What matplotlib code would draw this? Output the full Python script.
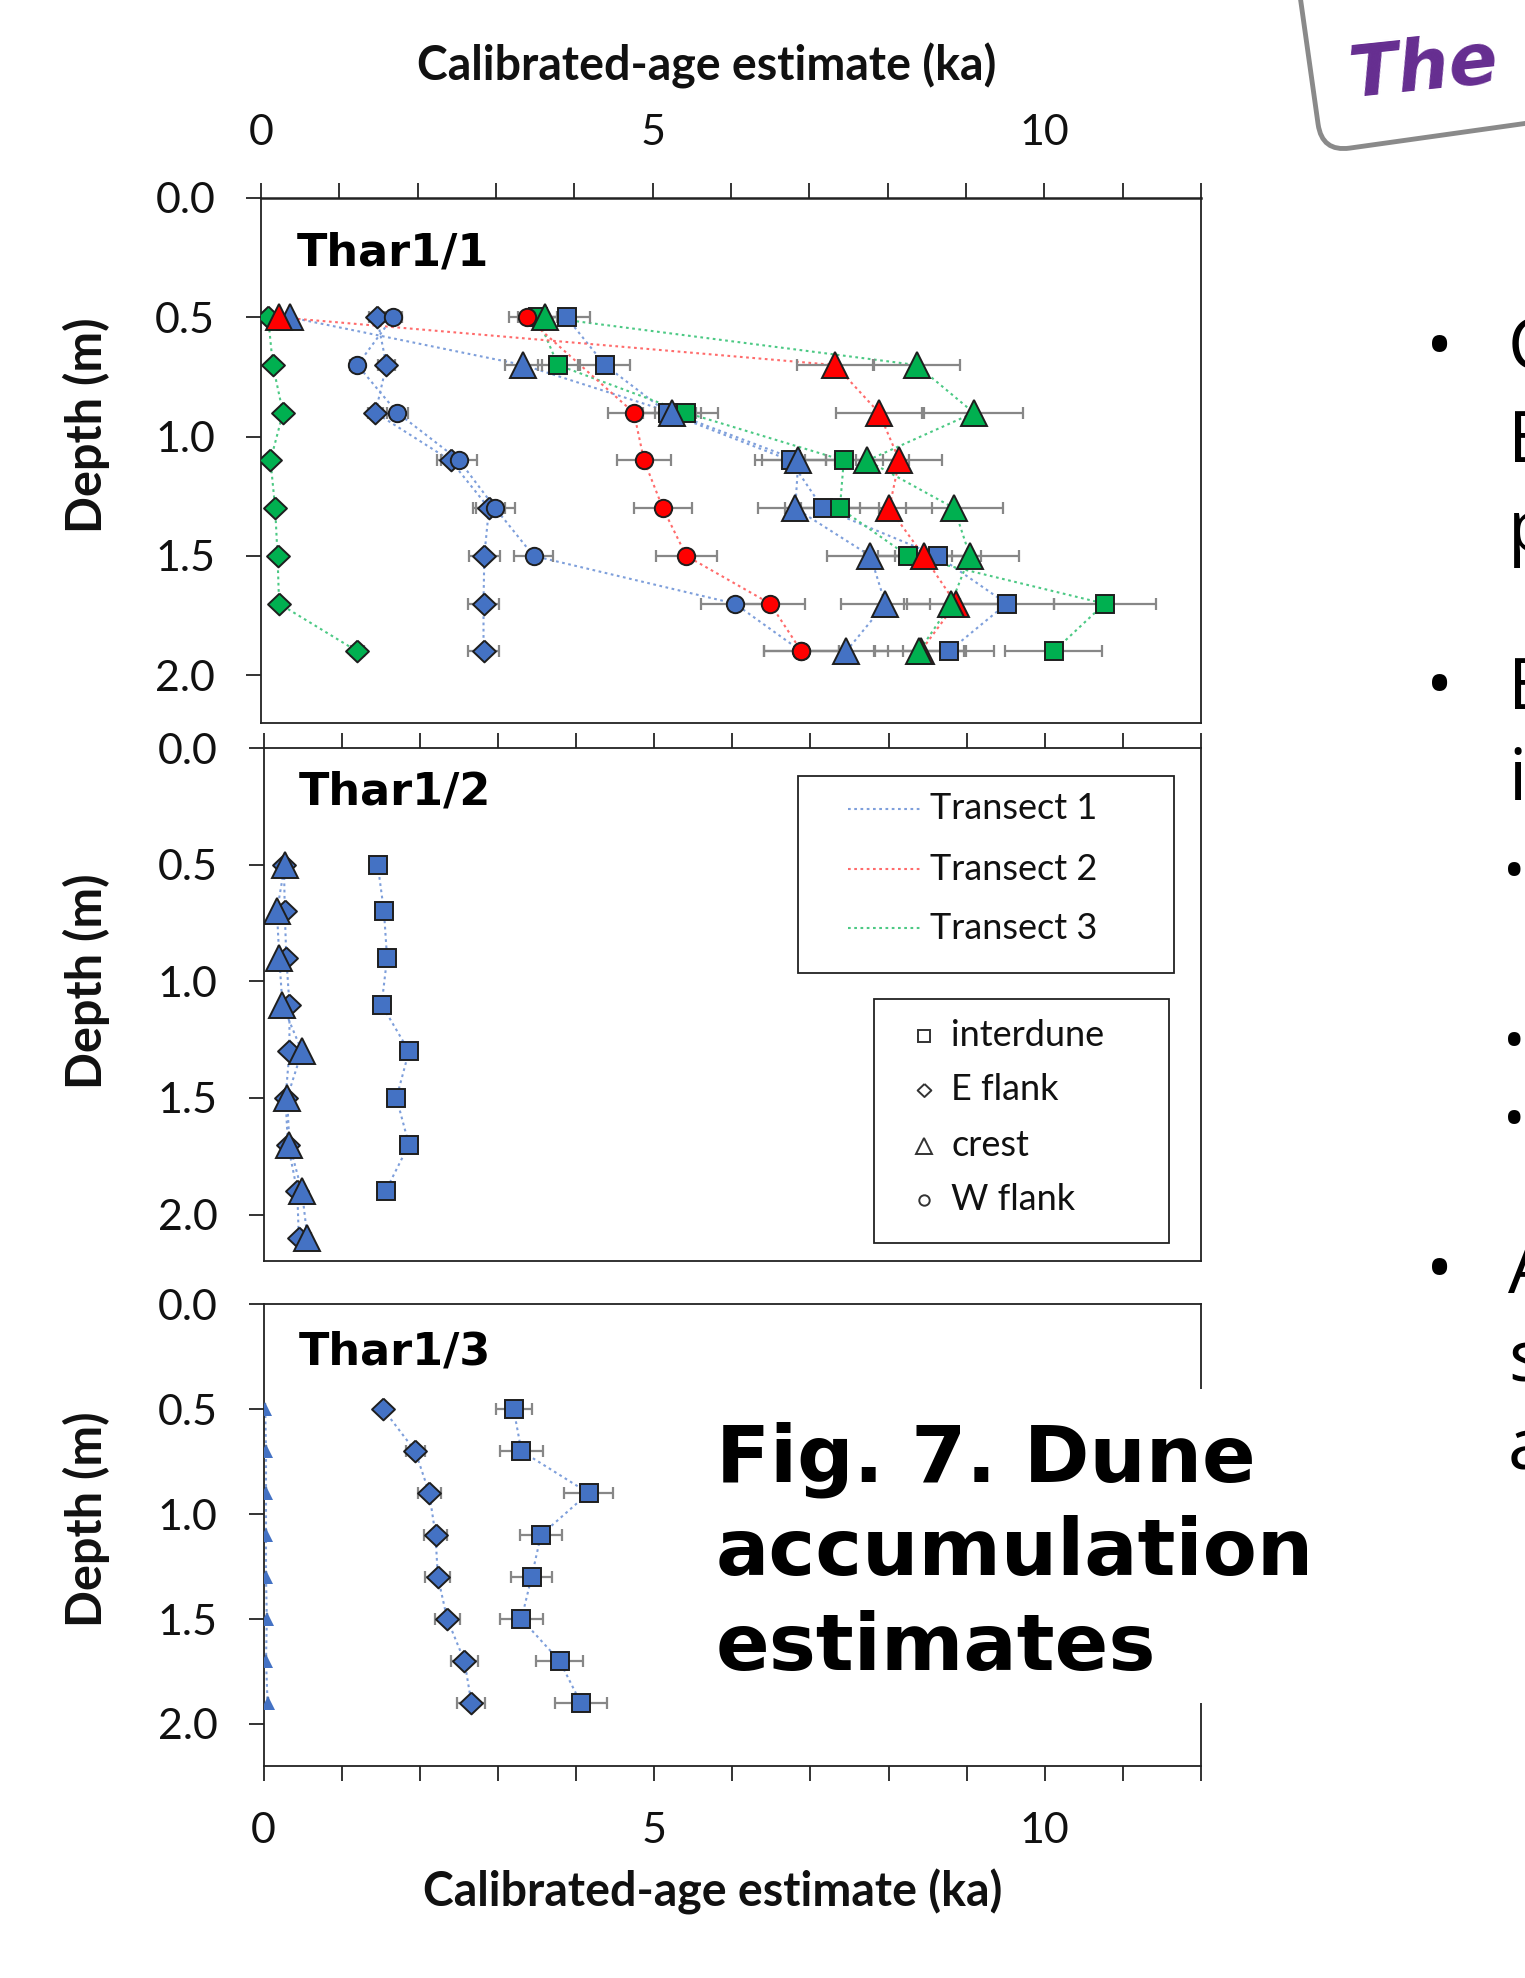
import matplotlib
matplotlib.use('Agg')
import matplotlib.pyplot as plt
import matplotlib.transforms as mtransforms
from matplotlib.patches import Rectangle, FancyBboxPatch
import numpy as np

W_PX, H_PX, DPI = 1525, 1978, 100

# ---- data (ages in ka, depth in m) ----
DEPTH_1 = [0.5, 0.7, 0.9, 1.1, 1.3, 1.5, 1.7, 1.9]
T1_INTERDUNE_1 = [3.90, 4.39, 5.19, 6.76, 7.17, 8.64, 9.52, 8.78]
T1_INTERDUNE_1_ERR = [0.30, 0.32, 0.36, 0.45, 0.48, 0.55, 0.60, 0.58]
T1_EFLANK_1 = [1.48, 1.60, 1.46, 2.42, 2.91, 2.85, 2.84, 2.84]
T1_EFLANK_1_ERR = [0.10, 0.11, 0.10, 0.17, 0.20, 0.20, 0.20, 0.20]
T1_CREST_1 = [0.37, 3.35, 5.25, 6.86, 6.82, 7.78, 7.97, 7.47]
T1_CREST_1_ERR = [0.03, 0.24, 0.37, 0.47, 0.47, 0.55, 0.57, 0.53]
T1_WFLANK_1 = [1.68, 1.23, 1.74, 2.53, 2.99, 3.48, 6.05, 6.90]
T1_WFLANK_1_ERR = [0.12, 0.09, 0.13, 0.23, 0.25, 0.25, 0.43, 0.48]
T2_CREST_1 = [0.23, 7.33, 7.89, 8.15, 8.02, 8.46, 8.87, 8.42]
T2_CREST_1_ERR = [0.02, 0.49, 0.55, 0.55, 0.55, 0.58, 0.62, 0.58]
T2_WFLANK_1 = [3.39, np.nan, 4.76, 4.89, 5.13, 5.43, 6.50, 6.90]
T2_WFLANK_1_ERR = [0.22, np.nan, 0.33, 0.35, 0.37, 0.39, 0.45, 0.48]
T3_INTERDUNE_1 = [3.53, 3.79, 5.43, 7.44, 7.39, 8.26, 10.77, 10.12]
T3_INTERDUNE_1_ERR = [0.25, 0.26, 0.40, 0.50, 0.50, 0.56, 0.65, 0.62]
T3_EFLANK_1 = [0.09, 0.15, 0.28, 0.12, 0.18, 0.21, 0.23, 1.23]
T3_EFLANK_1_ERR = [0.01, 0.01, 0.02, 0.01, 0.01, 0.02, 0.02, 0.08]
T3_CREST_1 = [3.63, 8.37, 9.10, 7.74, 8.85, 9.05, 8.81, 8.40]
T3_CREST_1_ERR = [0.25, 0.56, 0.63, 0.53, 0.62, 0.63, 0.60, 0.58]

DEPTH_2 = [0.5, 0.7, 0.9, 1.1, 1.3, 1.5, 1.7, 1.9, 2.1]
T1_INTERDUNE_2 = [1.46, 1.54, 1.58, 1.51, 1.86, 1.70, 1.86, 1.56, np.nan]
T1_INTERDUNE_2_ERR = [0.06, 0.10, 0.10, 0.06, 0.10, 0.07, 0.10, 0.07, np.nan]
T1_EFLANK_2 = [0.26, 0.27, 0.29, 0.33, 0.33, 0.28, 0.31, 0.43, 0.45]
T1_EFLANK_2_ERR = [0.02, 0.02, 0.02, 0.02, 0.02, 0.02, 0.02, 0.03, 0.03]
T1_CREST_2 = [0.27, 0.17, 0.20, 0.24, 0.49, 0.30, 0.33, 0.49, 0.56]
T1_CREST_2_ERR = [0.02, 0.01, 0.01, 0.02, 0.03, 0.02, 0.02, 0.03, 0.04]

DEPTH_3 = [0.5, 0.7, 0.9, 1.1, 1.3, 1.5, 1.7, 1.9]
T1_INTERDUNE_3 = [3.20, 3.30, 4.16, 3.55, 3.43, 3.30, 3.79, 4.06]
T1_INTERDUNE_3_ERR = [0.23, 0.27, 0.31, 0.27, 0.26, 0.28, 0.30, 0.33]
T1_EFLANK_3 = [1.53, 1.94, 2.12, 2.20, 2.23, 2.35, 2.57, 2.66]
T1_EFLANK_3_ERR = [0.05, 0.12, 0.15, 0.15, 0.16, 0.16, 0.17, 0.18]
T1_CREST_3 = [0.02, 0.03, 0.03, 0.03, 0.03, 0.04, 0.03, 0.05]
T1_CREST_3_ERR = [0.0, 0.0, 0.0, 0.0, 0.0, 0.0, 0.0, 0.0]

YTICKS = [0.0, 0.5, 1.0, 1.5, 2.0]
XTICKS_MAJOR = [0, 5, 10]
XTICKS_MINOR = list(range(13))
PANEL_NAMES = ['Thar1/1', 'Thar1/2', 'Thar1/3']
TRANSECTS = ['Transect 1', 'Transect 2', 'Transect 3']
POSITIONS = ['interdune', 'E flank', 'crest', 'W flank']
CAPTION_LINES = ['Fig. 7. Dune', 'accumulation', 'estimates']

# ---- styling ----
FILL = {1: '#4472C4', 2: '#FF0000', 3: '#00B050'}
LINE = {1: '#7E9FDB', 2: '#FF6B6B', 3: '#4CC984'}
EDGE = '#1E1E1E'
ERR_GREY = '#878787'
DIA = [(0, 0.95), (1, 0), (0, -0.95), (-1, 0), (0, 0.95)]
MARKERS = {'interdune': ('s', 13.5), 'E flank': (DIA, 16.5),
           'crest': ('^', 18.5), 'W flank': ('o', 12.5)}
DOTS = (0, (1.3, 1.7))

plt.rcParams['font.family'] = 'Lato'

fig = plt.figure(figsize=(W_PX / DPI, H_PX / DPI), dpi=DPI)


def fx(px):
    return px / W_PX


def fy(py):
    return 1 - py / H_PX


def draw_panel(ax, depth, series):
    d = np.asarray(depth, float)
    for k, (age, err, pos, tr, small) in enumerate(series):
        a = np.asarray(age, float)
        e = np.asarray(err, float)
        ok = ~np.isnan(a)
        ax.plot(a[ok], d[ok], ls=DOTS, lw=1.5, color=LINE[tr], zorder=2)
        ax.errorbar(a[ok], d[ok], xerr=e[ok], fmt='none', ecolor=ERR_GREY,
                    elinewidth=1.6, capsize=4.5, capthick=1.6, zorder=2.5)
        mk, ms = MARKERS[pos]
        if small:
            ax.plot(a[ok], d[ok], ls='none', marker=mk, ms=9.5, mfc=FILL[tr],
                    mec=FILL[tr], mew=0, zorder=3 + k * 0.01)
        else:
            ax.plot(a[ok], d[ok], ls='none', marker=mk, ms=ms, mfc=FILL[tr],
                    mec=EDGE, mew=1.4, zorder=3 + k * 0.01)


def style_axes(ax, where, labels):
    ax.set_xlim(0, 12)
    ax.set_ylim(2.2, 0)
    ax.set_yticks(YTICKS)
    ax.set_yticklabels([f'{v:.1f}' for v in YTICKS])
    ax.set_xticks(XTICKS_MAJOR)
    ax.set_xticks(XTICKS_MINOR, minor=True)
    ax.set_xticklabels([str(v) for v in XTICKS_MAJOR])
    ax.tick_params(axis='y', which='both', direction='out', length=11, width=1.2,
                   pad=22, labelsize=31, right=False, colors='#111111')
    if where == 'top':
        ax.tick_params(axis='x', which='both', direction='out', length=11, width=1.2,
                       top=True, bottom=False, labeltop=labels, labelbottom=False,
                       pad=22, labelsize=31, colors='#111111')
    else:
        ax.tick_params(axis='x', which='both', direction='out', length=11, width=1.2,
                       top=False, bottom=True, labeltop=False, labelbottom=labels,
                       pad=22, labelsize=31, colors='#111111')
    for sp in ax.spines.values():
        sp.set_linewidth(1.3)
        sp.set_color('#222222')


ax1 = fig.add_axes([0.1712, 0.6345, 0.7875 - 0.1712, 0.8999 - 0.6345])
ax2 = fig.add_axes([0.1729, 0.3624, 0.7875 - 0.1729, 0.6218 - 0.3624])
ax3 = fig.add_axes([0.1729, 0.1072, 0.7875 - 0.1729, 0.3407 - 0.1072])

series_1 = [
    (T1_INTERDUNE_1, T1_INTERDUNE_1_ERR, 'interdune', 1, False),
    (T3_INTERDUNE_1, T3_INTERDUNE_1_ERR, 'interdune', 3, False),
    (T1_EFLANK_1, T1_EFLANK_1_ERR, 'E flank', 1, False),
    (T3_EFLANK_1, T3_EFLANK_1_ERR, 'E flank', 3, False),
    (T1_CREST_1, T1_CREST_1_ERR, 'crest', 1, False),
    (T2_CREST_1, T2_CREST_1_ERR, 'crest', 2, False),
    (T3_CREST_1, T3_CREST_1_ERR, 'crest', 3, False),
    (T1_WFLANK_1, T1_WFLANK_1_ERR, 'W flank', 1, False),
    (T2_WFLANK_1, T2_WFLANK_1_ERR, 'W flank', 2, False),
]
series_2 = [
    (T1_INTERDUNE_2, T1_INTERDUNE_2_ERR, 'interdune', 1, False),
    (T1_EFLANK_2, T1_EFLANK_2_ERR, 'E flank', 1, False),
    (T1_CREST_2, T1_CREST_2_ERR, 'crest', 1, False),
]
series_3 = [
    (T1_INTERDUNE_3, T1_INTERDUNE_3_ERR, 'interdune', 1, False),
    (T1_EFLANK_3, T1_EFLANK_3_ERR, 'E flank', 1, False),
    (T1_CREST_3, T1_CREST_3_ERR, 'crest', 1, True),
]

draw_panel(ax1, DEPTH_1, series_1)
draw_panel(ax2, DEPTH_2, series_2)
draw_panel(ax3, DEPTH_3, series_3)
style_axes(ax1, 'top', True)
style_axes(ax2, 'top', False)
style_axes(ax3, 'bottom', True)
ax1.spines['top'].set_linewidth(1.8)

label_depths = [0.23, 0.19, 0.23]
for ax, name, yd in zip([ax1, ax2, ax3], PANEL_NAMES, label_depths):
    ax.text(0.45, yd, name, ha='left', va='center', fontsize=32,
            fontweight='bold', family='DejaVu Sans', color='black')

# ---- legends inside Thar1/2 (drawn by hand to match the boxed layout) ----
ax2.add_patch(Rectangle((0.570, 0.5614), 0.4016, 0.384, transform=ax2.transAxes,
                        fc='white', ec='#222222', lw=1.3, zorder=5))
for tr, (name, yy) in enumerate(zip(TRANSECTS, [0.882, 0.764, 0.649]), start=1):
    ax2.plot([0.623, 0.7016], [yy, yy], transform=ax2.transAxes, color=LINE[tr],
             ls=DOTS, lw=1.5, zorder=6)
    ax2.text(0.711, yy, name, transform=ax2.transAxes, ha='left', va='center',
             fontsize=26, color='#111111', zorder=6)

ax2.add_patch(Rectangle((0.6515, 0.0361), 0.3148, 0.4746, transform=ax2.transAxes,
                        fc='white', ec='#222222', lw=1.3, zorder=5))
for pos, yy in zip(POSITIONS, [0.4394, 0.3337, 0.2253, 0.1196]):
    mk, ms = MARKERS[pos]
    ax2.plot([0.704], [yy], transform=ax2.transAxes, ls='none', marker=mk,
             ms=ms * 0.6, mfc='white', mec='#333333', mew=1.4, zorder=6)
    ax2.text(0.7336, yy, pos, transform=ax2.transAxes, ha='left', va='center',
             fontsize=26, color='#111111', zorder=6)

# ---- axis titles ----
fig.text(fx(707), fy(66), 'Calibrated-age estimate (ka)', ha='center', va='center',
         fontsize=33.5, fontweight='bold', color='#111111')
fig.text(fx(713), fy(1892), 'Calibrated-age estimate (ka)', ha='center', va='center',
         fontsize=33.5, fontweight='bold', color='#111111')
for yc in [425, 981, 1519]:
    fig.text(fx(86), fy(yc), 'Depth (m)', rotation=90, ha='center', va='center',
             fontsize=35, fontweight='bold', color='#111111')

# ---- caption with white backing box ----
fig.add_artist(Rectangle((fx(700), fy(1703)), fx(1330) - fx(700), fy(1389) - fy(1703),
                         transform=fig.transFigure, fc='white', ec='none', zorder=5))
for line, base in zip(CAPTION_LINES, [1481, 1575, 1670]):
    fig.text(fx(716), fy(base), line, ha='left', va='baseline', fontsize=57,
             fontweight='bold', family='DejaVu Sans', color='black', zorder=6)

# ---- slide fragments on the right ----
inch = fig.dpi_scale_trans
x0, y0 = 13.22, (H_PX - 152) / DPI
rot = mtransforms.Affine2D().rotate_deg_around(x0, y0, 8) + inch
fig.add_artist(FancyBboxPatch((x0, y0), 4.0, 1.9, boxstyle='round,pad=0,rounding_size=0.28',
                              fc='white', ec='#8A8A8A', lw=3.5, transform=rot, zorder=5))
fig.text(fx(1424), fy(70), 'The', ha='center', va='center', rotation=6,
         rotation_mode='anchor', fontsize=52, fontweight='bold', style='italic',
         family='DejaVu Sans', color='#652D90', zorder=6)

for base in [370, 709, 1293]:
    fig.text(fx(1440), fy(base), '\u2022', ha='center', va='baseline', fontsize=52,
             family='Open Sans', color='black')
for base in [891, 1061, 1139]:
    fig.text(fx(1514), fy(base), '\u2022', ha='center', va='baseline', fontsize=43,
             family='Open Sans', color='black')
for ch, base in zip(['C', 'E', 'p', 'E', 'i', 'A', 's', 'a'],
                    [370, 462, 551, 709, 800, 1293, 1381, 1470]):
    fig.text(fx(1508), fy(base), ch, ha='left', va='baseline', fontsize=52,
             family='Open Sans', color='black')

fig.savefig('out.png', dpi=DPI, facecolor='white')
